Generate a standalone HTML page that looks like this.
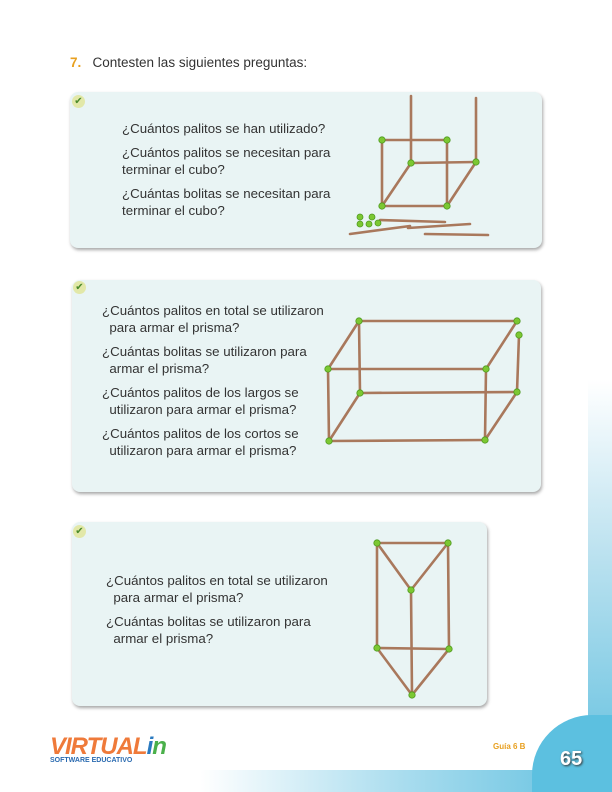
<!DOCTYPE html>
<html style="overflow:hidden;width:612px;height:792px;"><head><meta charset="utf-8"><style>
body{margin:0;width:612px;height:792px;position:relative;overflow:hidden;background:#fff;font-family:"Liberation Sans",sans-serif;}
.box{position:absolute;background:#e9f4f4;border-radius:8px;box-shadow:1px 2px 3px rgba(0,0,0,0.35);}
.q{position:absolute;font-size:13.3px;color:#333;line-height:17px;}
.q p{margin:0 0 7px 0;}
.chk{position:absolute;width:13px;height:13px;border-radius:50%;background:#e2e8a8;color:#4a8a2a;font-size:10px;line-height:13px;text-align:center;}
svg{position:absolute;left:0;top:0;}
</style></head><body>
<div style="position:absolute;left:588px;top:380px;width:24px;height:412px;background:linear-gradient(#fff,#bfe3f0 40%,#5fbfdf);"></div>
<div style="position:absolute;left:200px;top:770px;width:412px;height:22px;background:linear-gradient(90deg,#fff,#a8dcee 50%,#5fbfdf);"></div>
<div style="position:absolute;left:532px;top:715px;width:80px;height:77px;border-radius:60px 0 0 0;background:#5cc0e0;"></div>
<div style="position:absolute;left:560px;top:748px;color:#fff;font-weight:bold;font-size:20px;text-shadow:1px 1px 2px #333;">65</div>
<div style="position:absolute;left:493px;top:742px;color:#e8a020;font-weight:bold;font-size:8px;">Guía 6 B</div>
<div style="position:absolute;left:50px;top:733px;">
<div style="color:#ef7a3a;font-weight:bold;font-size:24px;letter-spacing:-1px;font-style:italic;">VIRTUAL<span style="color:#2a7ac0">i</span><span style="color:#4ab04a">n</span></div>
<div style="color:#2a6ab0;font-size:7px;font-weight:bold;margin-top:-4px;">SOFTWARE EDUCATIVO</div></div>

<div style="position:absolute;left:70px;top:55px;font-size:13.5px;color:#333;"><b style="color:#e8a020">7.</b>&nbsp;&nbsp; Contesten las siguientes preguntas:</div>

<div class="box" style="left:70px;top:92px;width:472px;height:156px;"></div>
<div class="box" style="left:72px;top:280px;width:469px;height:212px;"></div>
<div class="box" style="left:72px;top:522px;width:415px;height:184px;"></div>
<div class="chk" style="left:72px;top:95px;">✔</div>
<div class="chk" style="left:73px;top:281px;">✔</div>
<div class="chk" style="left:73px;top:525px;">✔</div>

<div class="q" style="left:122px;top:120px;">
<p>¿Cuántos palitos se han utilizado?</p>
<p>¿Cuántos palitos se necesitan para<br>terminar el cubo?</p>
<p>¿Cuántas bolitas se necesitan para<br>terminar el cubo?</p></div>
<div class="q" style="left:102px;top:302px;">
<p>¿Cuántos palitos en total se utilizaron<br>&nbsp;&nbsp;para armar el prisma?</p>
<p>¿Cuántas bolitas se utilizaron para<br>&nbsp;&nbsp;armar el prisma?</p>
<p>¿Cuántos palitos de los largos se<br>&nbsp;&nbsp;utilizaron para armar el prisma?</p>
<p>¿Cuántos palitos de los cortos se<br>&nbsp;&nbsp;utilizaron para armar el prisma?</p></div>
<div class="q" style="left:106px;top:572px;">
<p>¿Cuántos palitos en total se utilizaron<br>&nbsp;&nbsp;para armar el prisma?</p>
<p>¿Cuántas bolitas se utilizaron para<br>&nbsp;&nbsp;armar el prisma?</p></div>

<svg width="612" height="792">
<g stroke="#a9785c" stroke-width="2.6" stroke-linecap="round">
<line x1="382" y1="140" x2="447" y2="140"/><line x1="382" y1="140" x2="382" y2="206"/><line x1="447" y1="140" x2="447" y2="206"/>
<line x1="382" y1="206" x2="447" y2="206"/><line x1="411" y1="96" x2="411" y2="163"/><line x1="476" y1="98" x2="476" y2="162"/>
<line x1="411" y1="163" x2="476" y2="162"/><line x1="382" y1="206" x2="411" y2="163"/><line x1="447" y1="206" x2="476" y2="162"/>
<line x1="380" y1="220" x2="445" y2="222"/><line x1="350" y1="234" x2="410" y2="226"/><line x1="408" y1="228" x2="470" y2="224"/><line x1="425" y1="234" x2="488" y2="235"/>
<line x1="359" y1="321" x2="517" y2="321"/><line x1="328" y1="369" x2="486" y2="369"/><line x1="360" y1="393" x2="517" y2="392"/><line x1="329" y1="441" x2="485" y2="440"/>
<line x1="359" y1="321" x2="360" y2="393"/><line x1="519" y1="335" x2="517" y2="392"/><line x1="328" y1="369" x2="329" y2="441"/><line x1="486" y1="369" x2="485" y2="440"/>
<line x1="359" y1="321" x2="328" y2="369"/><line x1="517" y1="321" x2="486" y2="369"/><line x1="360" y1="393" x2="329" y2="441"/><line x1="517" y1="392" x2="485" y2="440"/>
<line x1="377" y1="543" x2="448" y2="543"/><line x1="377" y1="543" x2="411" y2="590"/><line x1="448" y1="543" x2="411" y2="590"/>
<line x1="377" y1="648" x2="449" y2="649"/><line x1="377" y1="648" x2="412" y2="695"/><line x1="449" y1="649" x2="412" y2="695"/>
<line x1="377" y1="543" x2="377" y2="648"/><line x1="448" y1="543" x2="449" y2="649"/><line x1="411" y1="590" x2="412" y2="695"/>
</g>
<g fill="#7cc832" stroke="#4f9a20" stroke-width="0.8">
<circle cx="382" cy="140" r="3.2"/><circle cx="447" cy="140" r="3.2"/><circle cx="411" cy="163" r="3.2"/><circle cx="476" cy="162" r="3.2"/><circle cx="382" cy="206" r="3.2"/><circle cx="447" cy="206" r="3.2"/>
<circle cx="360" cy="217" r="3"/><circle cx="372" cy="217" r="3"/><circle cx="360" cy="224" r="3"/><circle cx="369" cy="224" r="3"/><circle cx="378" cy="223" r="3"/>
<circle cx="359" cy="321" r="3.2"/><circle cx="517" cy="321" r="3.2"/><circle cx="519" cy="335" r="3.2"/><circle cx="328" cy="369" r="3.2"/><circle cx="486" cy="369" r="3.2"/>
<circle cx="360" cy="393" r="3.2"/><circle cx="517" cy="392" r="3.2"/><circle cx="329" cy="441" r="3.2"/><circle cx="485" cy="440" r="3.2"/>
<circle cx="377" cy="543" r="3.2"/><circle cx="448" cy="543" r="3.2"/><circle cx="411" cy="590" r="3.2"/><circle cx="377" cy="648" r="3.2"/><circle cx="449" cy="649" r="3.2"/><circle cx="412" cy="695" r="3.2"/>
</g></svg>
</body></html>
